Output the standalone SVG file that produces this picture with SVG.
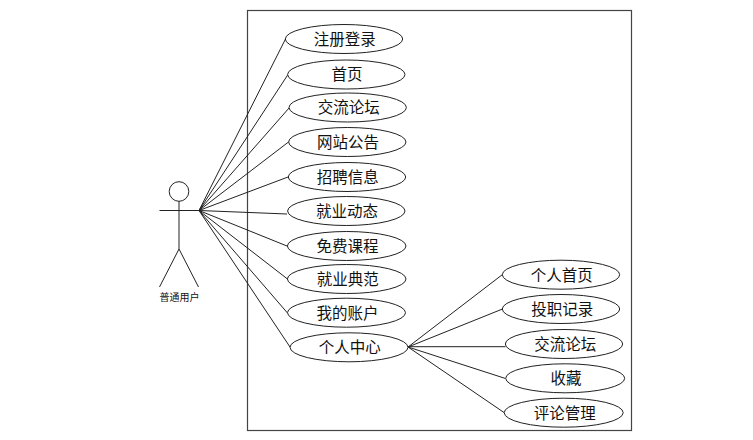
<svg xmlns="http://www.w3.org/2000/svg" width="753" height="440" viewBox="0 0 753 440">
<style>
.s{fill:none;stroke:#222;stroke-width:1}
.e{fill:#fff;stroke:#222;stroke-width:1}
.t{font-family:"Noto Sans CJK SC","Liberation Sans",sans-serif;font-size:15.500px;fill:#111;text-anchor:middle}
.a{font-family:"Noto Sans CJK SC","Liberation Sans",sans-serif;font-size:10px;fill:#111;text-anchor:middle}
</style>
<rect width="753" height="440" fill="#fff"/>
<rect id="system" x="247.500" y="10.500" width="384" height="420" fill="none" stroke="#444" stroke-width="1.200"/>
<g id="connectors" class="s">
<path d="M199 210.500L285.500 39"/>
<path d="M199 210.500L288 74.500"/>
<path d="M199 210.500L289.500 107.500"/>
<path d="M199 210.500L288.500 142"/>
<path d="M199 210.500L288 177"/>
<path d="M199 210.500L287 214"/>
<path d="M199 210.500L287 246"/>
<path d="M199 210.500L287.500 279"/>
<path d="M199 210.500L287.500 313"/>
<path d="M199 210.500L290 347"/>
<path d="M408 347L502.500 274.500"/>
<path d="M408 347L502.500 309"/>
<path d="M408 346.700L505.500 346.700"/>
<path d="M408 347L505.500 378.500"/>
<path d="M408 347L504 412.500"/>
</g>
<g id="actor">
<circle cx="179" cy="191.500" r="9.800" fill="#fff" stroke="#222"/>
<path d="M179 201.300V249M159.500 210.500H199M179 249L159.500 287M179 249L198.500 287" fill="none" stroke="#222" stroke-width="1"/>
<text class="a" x="179.500" y="301">普通用户</text>
</g>
<g id="n1"><ellipse class="e" cx="344" cy="39" rx="58.700" ry="14.500"/><text class="t" x="344.800" y="45">注册登录</text></g>
<g id="n2"><ellipse class="e" cx="346.300" cy="74.500" rx="58.700" ry="14.500"/><text class="t" x="347" y="80">首页</text></g>
<g id="n3"><ellipse class="e" cx="347.700" cy="107.500" rx="58.700" ry="14.500"/><text class="t" x="348.700" y="113">交流论坛</text></g>
<g id="n4"><ellipse class="e" cx="347.300" cy="142" rx="58.700" ry="14.500"/><text class="t" x="348" y="148">网站公告</text></g>
<g id="n5"><ellipse class="e" cx="347" cy="177" rx="58.700" ry="14.500"/><text class="t" x="347.700" y="183">招聘信息</text></g>
<g id="n6"><ellipse class="e" cx="346.300" cy="211" rx="58.700" ry="14.500"/><text class="t" x="347" y="217">就业动态</text></g>
<g id="n7"><ellipse class="e" cx="346.700" cy="246" rx="59.300" ry="14.500"/><text class="t" x="347.400" y="252">免费课程</text></g>
<g id="n8"><ellipse class="e" cx="346.700" cy="279" rx="59.300" ry="14.500"/><text class="t" x="347.700" y="285">就业典范</text></g>
<g id="n9"><ellipse class="e" cx="346.500" cy="312.700" rx="59" ry="14.500"/><text class="t" x="347.500" y="318.500">我的账户</text></g>
<g id="n10"><ellipse class="e" cx="349" cy="347.300" rx="59" ry="14.500"/><text class="t" x="349.700" y="353">个人中心</text></g>
<g id="n11"><ellipse class="e" cx="561" cy="274.700" rx="58.700" ry="14.500"/><text class="t" x="561.700" y="280.500">个人首页</text></g>
<g id="n12"><ellipse class="e" cx="561" cy="309" rx="58.700" ry="14.500"/><text class="t" x="562.200" y="315">投职记录</text></g>
<g id="n13"><ellipse class="e" cx="564" cy="344" rx="58.700" ry="14.500"/><text class="t" x="565.200" y="350">交流论坛</text></g>
<g id="n14"><ellipse class="e" cx="565.200" cy="378.300" rx="59.500" ry="14.500"/><text class="t" x="566" y="384">收藏</text></g>
<g id="n15"><ellipse class="e" cx="563.700" cy="412.700" rx="59.500" ry="14.500"/><text class="t" x="564.700" y="418.500">评论管理</text></g>
</svg>
